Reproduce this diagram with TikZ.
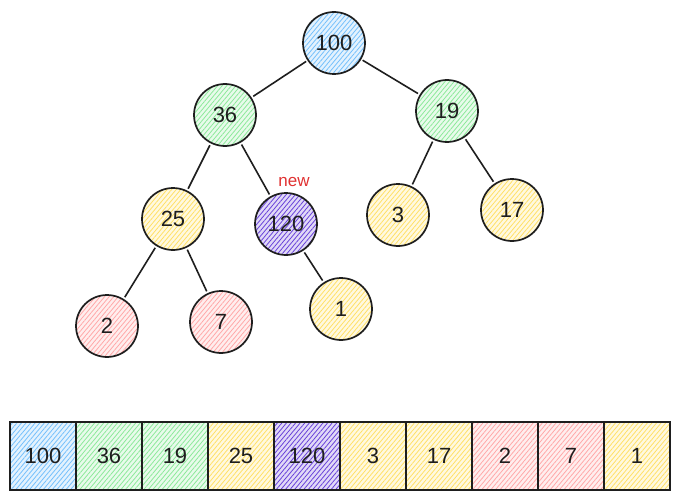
\documentclass[tikz,border=0pt]{standalone}
\usepackage{fontspec}
\setmainfont{Liberation Sans}
\usetikzlibrary{patterns.meta}
\definecolor{cblue}{HTML}{74C0FC}
\definecolor{cgreen}{HTML}{8CE99A}
\definecolor{cyellow}{HTML}{FFE066}
\definecolor{cred}{HTML}{FFA8A8}
\definecolor{cviolet}{HTML}{6741D9}
\definecolor{cnew}{HTML}{E03131}
\definecolor{ink}{HTML}{1E1E1E}
\tikzset{
  hatch/.style={preaction={fill=#1!20},
    pattern={Lines[angle=50,distance=3.5pt,line width=0.8pt]}, pattern color=#1},
  heapnode/.style={circle, draw=ink, line width=1.7pt, minimum size=62pt, inner sep=0pt,
    font=\fontsize{22}{22}\selectfont, text=ink, hatch=#1},
  cell/.style={rectangle, draw=ink, line width=1.7pt, minimum width=66pt, minimum height=68pt,
    inner sep=0pt, font=\fontsize{22}{22}\selectfont, text=ink, hatch=#1},
  edge/.style={draw=ink, line width=1.6pt, shorten <=2pt, shorten >=2pt},
}
\begin{document}
\begin{tikzpicture}[x=1pt,y=-1pt]
\useasboundingbox (0,0) rectangle (678,503);
\node[heapnode=cblue] (n100) at (334,43) {100};
\node[heapnode=cgreen] (n36) at (225,115) {36};
\node[heapnode=cgreen] (n19) at (447,111) {19};
\node[heapnode=cyellow] (n25) at (173,219) {25};
\node[heapnode=cviolet] (n120) at (286,224) {120};
\node[heapnode=cyellow] (n3) at (398,215) {3};
\node[heapnode=cyellow] (n17) at (512,210) {17};
\node[heapnode=cred] (n2) at (107,326) {2};
\node[heapnode=cred] (n7) at (221,322) {7};
\node[heapnode=cyellow] (n1) at (341,309) {1};
\node[text=cnew, font=\fontsize{17}{17}\selectfont, inner sep=0pt] (lnew) at (294,182) {new};
\path[edge] (n100) -- (n36);
\path[edge] (n100) -- (n19);
\path[edge] (n36) -- (n25);
\path[edge] (n36) -- (n120);
\path[edge] (n19) -- (n3);
\path[edge] (n19) -- (n17);
\path[edge] (n25) -- (n2);
\path[edge] (n25) -- (n7);
\path[edge] (n120) -- (n1);
\foreach \v/\c [count=\i from 0] in {100/cblue,36/cgreen,19/cgreen,25/cyellow,120/cviolet,3/cyellow,17/cyellow,2/cred,7/cred,1/cyellow}{
  \node[cell=\c] (a\i) at (43+66*\i,456) {\v};
}
\end{tikzpicture}
\end{document}
